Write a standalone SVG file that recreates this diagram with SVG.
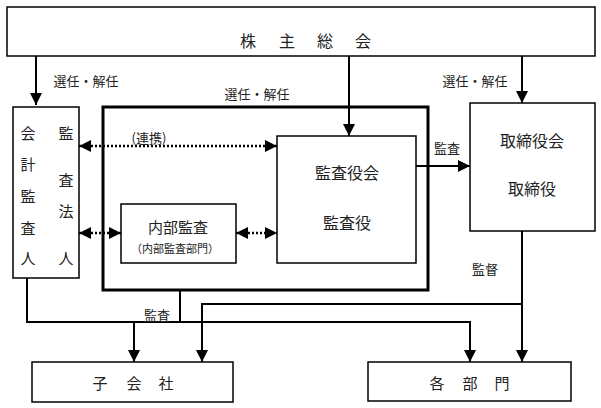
<svg xmlns="http://www.w3.org/2000/svg" width="601" height="408" viewBox="0 0 601 408">
<style>
.box{fill:#fff;stroke:#000;stroke-width:1.5}
.thick{fill:none;stroke:#000;stroke-width:3}
.ln{fill:none;stroke:#000;stroke-width:2}
.dot{fill:none;stroke:#000;stroke-width:2.5;stroke-dasharray:2,2}
text{font-family:"Noto Sans CJK JP","Noto Sans CJK SC",sans-serif;fill:#222;text-anchor:middle;dominant-baseline:central}
.t16{font-size:16px}
.t15{font-size:15px}
.t13{font-size:13px}
.t12{font-size:12px}
.t11{font-size:11px}
</style>
<defs>
<marker id="ah" markerUnits="userSpaceOnUse" markerWidth="14" markerHeight="14" refX="12" refY="6" orient="auto">
<path d="M0,0 L12,6 L0,12 Z" fill="#000"/>
</marker>
<marker id="as" markerUnits="userSpaceOnUse" markerWidth="14" markerHeight="14" refX="12" refY="6" orient="auto-start-reverse">
<path d="M0,0 L12,6 L0,12 Z" fill="#000"/>
</marker>
</defs>
<g id="connectors">
<line class="ln" x1="36" y1="56" x2="36" y2="105" marker-end="url(#ah)"/>
<line class="ln" x1="349" y1="56" x2="349" y2="136" marker-end="url(#ah)"/>
<line class="ln" x1="522" y1="56" x2="522" y2="103" marker-end="url(#ah)"/>
<line class="ln" x1="416" y1="166" x2="470" y2="166" marker-end="url(#ah)"/>
<line class="dot" x1="79" y1="146" x2="277" y2="146" marker-start="url(#as)" marker-end="url(#as)"/>
<line class="dot" x1="79" y1="233" x2="121" y2="233" marker-start="url(#as)" marker-end="url(#as)"/>
<line class="dot" x1="236" y1="233" x2="277" y2="233" marker-start="url(#as)" marker-end="url(#as)"/>
<polyline class="ln" points="27,278 27,322 470,322 470,362" marker-end="url(#ah)"/>
<line class="ln" x1="180" y1="290" x2="180" y2="322"/>
<line class="ln" x1="134" y1="322" x2="134" y2="362" marker-end="url(#ah)"/>
<polyline class="ln" points="522,231 522,362" marker-end="url(#ah)"/>
<polyline class="ln" points="522,304 202,304 202,362" marker-end="url(#ah)"/>
<text class="t13" x="86" y="80">選任・解任</text>
<text class="t13" x="257" y="93">選任・解任</text>
<text class="t13" x="475" y="80">選任・解任</text>
<text class="t13" x="149" y="137">(連携)</text>
<text class="t13" x="447" y="147">監査</text>
<text class="t13" x="485" y="268">監督</text>
<text class="t13" x="157" y="314">監査</text>
</g>
<g id="shareholders">
<rect class="box" x="7" y="7" width="588" height="49"/>
<text class="t16" x="248" y="40">株</text>
<text class="t16" x="287" y="40">主</text>
<text class="t16" x="325" y="40">総</text>
<text class="t16" x="363" y="40">会</text>
</g>
<g id="auditor">
<rect class="box" x="13" y="107" width="66" height="171"/>
<text class="t15" x="28" y="132">会</text>
<text class="t15" x="28" y="163">計</text>
<text class="t15" x="28" y="195">監</text>
<text class="t15" x="28" y="227">査</text>
<text class="t15" x="28" y="257">人</text>
<text class="t15" x="66" y="132">監</text>
<text class="t15" x="66" y="179">査</text>
<text class="t15" x="66" y="210">法</text>
<text class="t15" x="66" y="257">人</text>
</g>
<g id="audit-frame">
<rect class="thick" x="103" y="107" width="325" height="183"/>
</g>
<g id="audit-board">
<rect class="box" x="277" y="136" width="139" height="127"/>
<text class="t16" x="347" y="172">監査役会</text>
<text class="t16" x="347" y="222">監査役</text>
</g>
<g id="internal-audit">
<rect class="box" x="121" y="204" width="115" height="59"/>
<text class="t15" x="178" y="226">内部監査</text>
<text class="t11" x="175" y="248">（内部監査部門）</text>
</g>
<g id="board">
<rect class="box" x="470" y="103" width="125" height="128"/>
<text class="t16" x="532" y="140">取締役会</text>
<text class="t16" x="532" y="188">取締役</text>
</g>
<g id="subsidiary">
<rect class="box" x="32" y="362" width="201" height="40"/>
<text class="t15" x="100" y="382">子</text>
<text class="t15" x="134" y="382">会</text>
<text class="t15" x="166" y="382">社</text>
</g>
<g id="departments">
<rect class="box" x="368" y="362" width="203" height="39"/>
<text class="t15" x="437" y="382">各</text>
<text class="t15" x="470" y="382">部</text>
<text class="t15" x="502" y="382">門</text>
</g>
</svg>
